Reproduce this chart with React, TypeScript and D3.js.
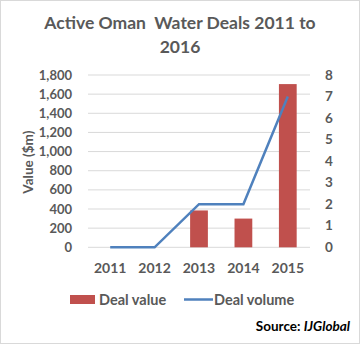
import React from "react";
import * as d3 from "d3";

const years = ["2011", "2012", "2013", "2014", "2015"];
const dealValue = [0, 0, 385, 300, 1705];
const dealVolume = [0, 0, 2, 2, 7];
const leftTicks = [0, 200, 400, 600, 800, 1000, 1200, 1400, 1600, 1800];
const rightTicks = [0, 1, 2, 3, 4, 5, 6, 7, 8];

const W = 360;
const H = 344;
const FONT = "Lato, 'Open Sans', sans-serif";
const TXT = "#595959";
const BAR = "#c0504d";
const LINE = "#4f81bd";
const GRID = "#d9d9d9";

export default function App() {
  const left = 88;
  const right = 310;
  const top = 75;
  const bottom = 247.3;

  const x = d3.scaleBand<string>().domain(years).range([left, right]).paddingInner(0.6).paddingOuter(0.3);
  const xPoint = (c: string) => (x(c) as number) + x.bandwidth() / 2;
  const yL = d3.scaleLinear().domain([0, 1800]).range([bottom, top]);
  const yR = d3.scaleLinear().domain([0, 8]).range([bottom, top]);

  const line = d3
    .line<number>()
    .x((_, i) => xPoint(years[i]))
    .y((d) => yR(d));

  return (
    <svg
      width={W}
      height={H}
      style={{ position: "absolute", left: 0, top: 0, background: "#fff" }}
      fontFamily={FONT}
    >
      <rect x={0.5} y={0.5} width={W - 1} height={H - 1} fill="#fff" stroke={GRID} />
      <text x={180} y={29} textAnchor="middle" fontSize={17.5} fontWeight="bold" fill={TXT} style={{ whiteSpace: "pre" }}>
        {"Active Oman  Water Deals 2011 to"}
      </text>
      <text x={180} y={53} textAnchor="middle" fontSize={17.5} fontWeight="bold" fill={TXT}>
        2016
      </text>

      {leftTicks.map((t) => (
        <line key={"g" + t} x1={left} x2={right} y1={yL(t)} y2={yL(t)} stroke={GRID} strokeWidth={1} />
      ))}
      {leftTicks.map((t) => (
        <text key={"l" + t} x={72} y={yL(t) + 4.5} textAnchor="end" fontSize={13} fontWeight="bold" fill={TXT}>
          {d3.format(",")(t)}
        </text>
      ))}
      {rightTicks.map((t) => (
        <text key={"r" + t} x={325} y={yR(t) + 4.5} textAnchor="start" fontSize={13.5} fontWeight="bold" fill={TXT}>
          {t}
        </text>
      ))}
      <text
        transform={`translate(33,${(top + bottom) / 2 + 1}) rotate(-90)`}
        textAnchor="middle"
        fontSize={13.5}
        fontWeight="bold"
        fill={TXT}
      >
        Value ($m)
      </text>

      {years.map((c, i) => (
        <rect
          key={"b" + c}
          x={x(c)}
          y={yL(dealValue[i])}
          width={x.bandwidth()}
          height={bottom - yL(dealValue[i])}
          fill={BAR}
        />
      ))}
      <path d={line(dealVolume) || ""} fill="none" stroke={LINE} strokeWidth={2.5} />

      {years.map((c) => (
        <text key={"x" + c} x={xPoint(c)} y={273} textAnchor="middle" fontSize={14} fontWeight="bold" fill={TXT}>
          {c}
        </text>
      ))}

      <rect x={70} y={295} width={25} height={9} fill={BAR} />
      <text x={99} y={304.5} fontSize={14.5} fontWeight="bold" fill={TXT}>
        Deal value
      </text>
      <line x1={184} x2={213} y1={299.5} y2={299.5} stroke={LINE} strokeWidth={2.5} />
      <text x={214} y={304.5} fontSize={14.5} fontWeight="bold" fill={TXT}>
        Deal volume
      </text>

      <text x={350} y={331} textAnchor="end" fontSize={13.5} fontWeight="bold" fill="#000">
        Source: <tspan fontStyle="italic">IJGlobal</tspan>
      </text>
    </svg>
  );
}
